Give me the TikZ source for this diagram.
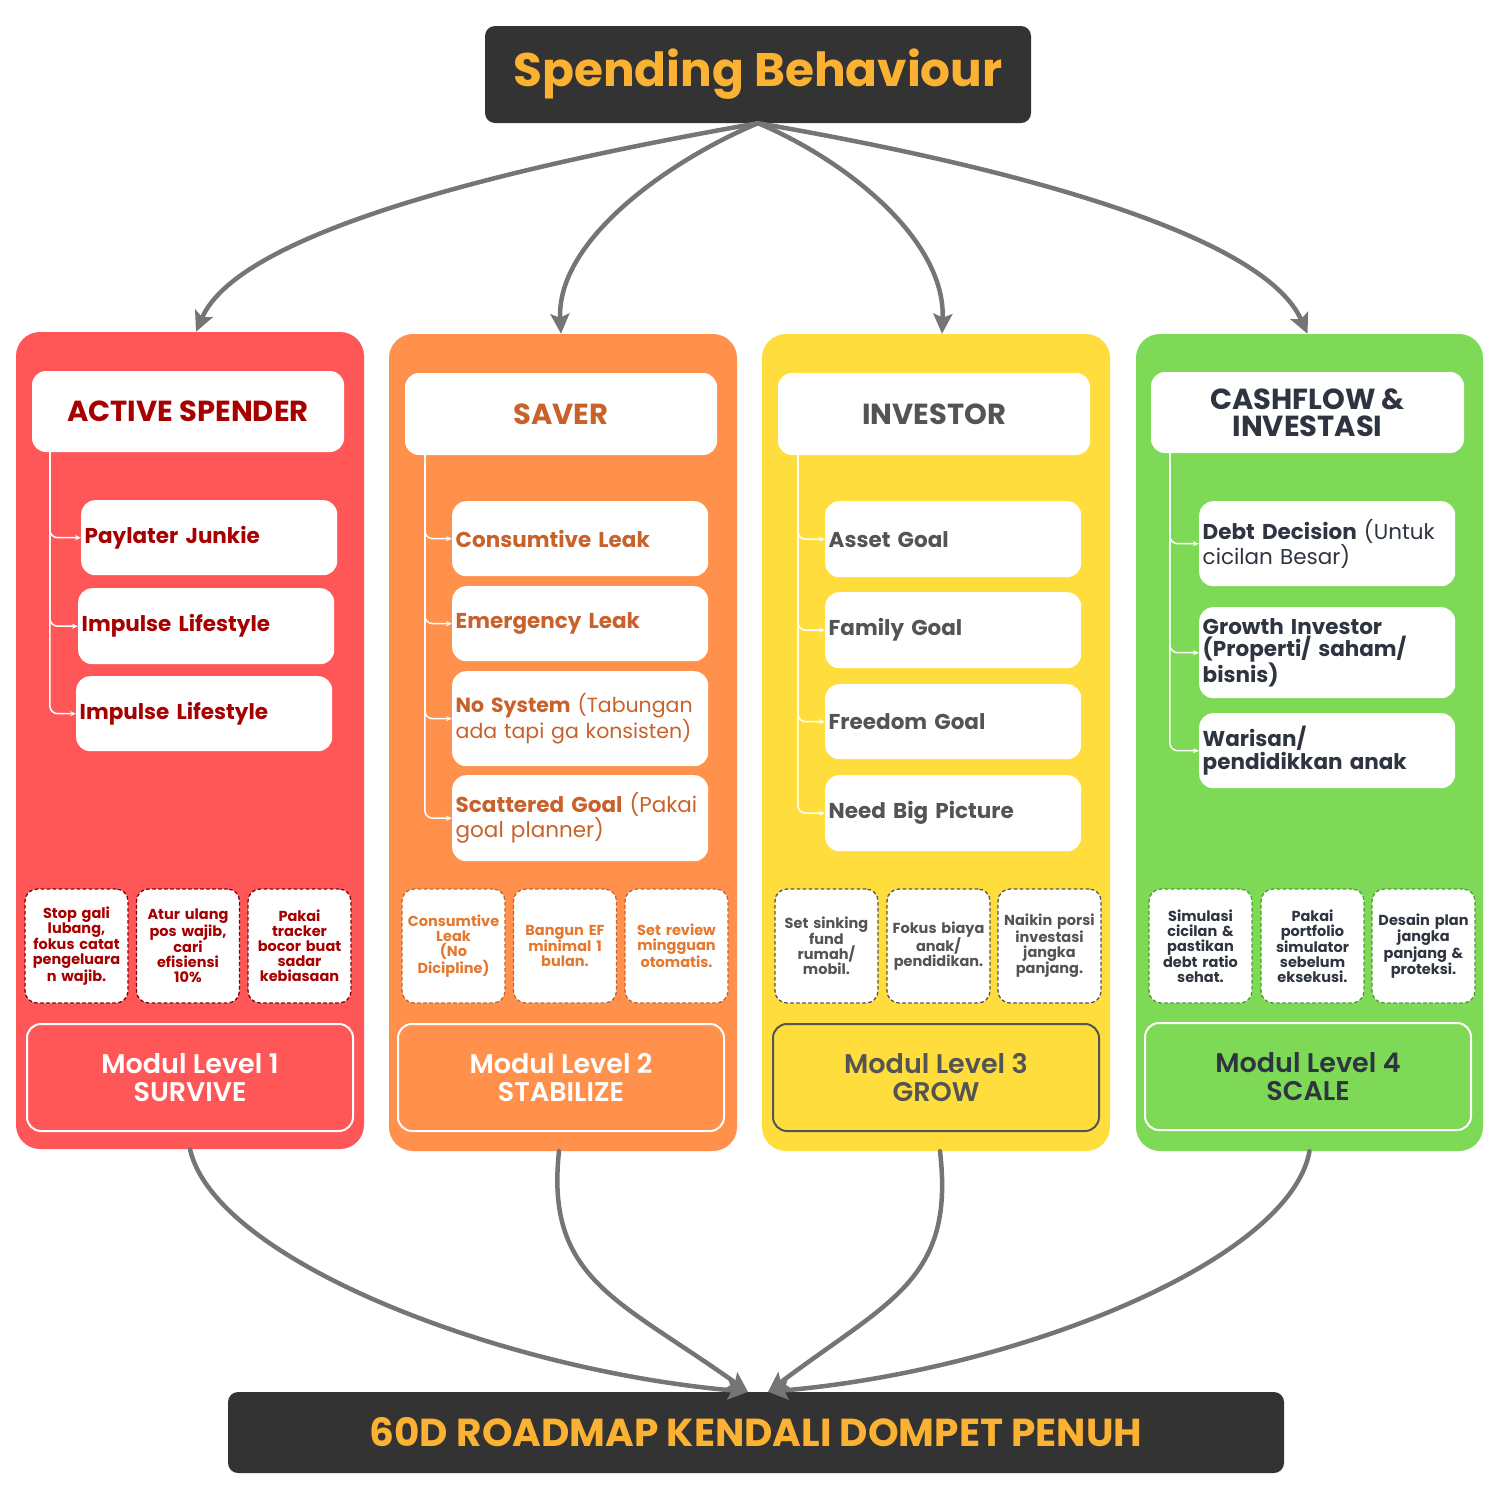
\documentclass[tikz,border=0pt]{standalone}
\usepackage{fontspec}
\usepackage{graphicx}
\setmainfont{Poppins}
\newfontfamily\medfont{Poppins SemiBold}
\usetikzlibrary{arrows.meta,positioning}
\hyphenpenalty=10000
\definecolor{spendred}{HTML}{FF5757}
\definecolor{saverorange}{HTML}{FF914D}
\definecolor{investyellow}{HTML}{FFDD3C}
\definecolor{cashgreen}{HTML}{7ED957}
\definecolor{boxdark}{HTML}{333333}
\definecolor{titleorange}{HTML}{FBB232}
\definecolor{darkred}{HTML}{A60000}
\definecolor{burnt}{HTML}{C8622A}
\definecolor{tiporange}{HTML}{E4782F}
\definecolor{slate}{HTML}{545454}
\definecolor{navy}{HTML}{2E3440}
\definecolor{leafgreen}{HTML}{4E9B2E}
\definecolor{flowgray}{HTML}{757575}
\begin{document}
\begin{tikzpicture}[x=1pt,y=1pt,>=stealth,line join=round,line cap=round]
\tikzset{col/.style={rounded corners=24pt,minimum width=348pt,minimum height=817pt,inner sep=0pt},
head/.style={fill=white,rounded corners=14pt,minimum width=312pt,minimum height=81pt,align=center,font=\bfseries\fontsize{29}{27}\selectfont},
item/.style={fill=white,rounded corners=14pt,anchor=north west,minimum width=256pt,text width=249pt,inner xsep=3.5pt,align=left,font=\fontsize{21.5}{24}\selectfont},
tipbox/.style={fill=white,dashed,line width=1.3pt,rounded corners=12pt,minimum width=103pt,minimum height=114pt,text width=100pt,inner xsep=1.5pt,align=center,font=\bfseries\fontsize{14.5}{15}\selectfont},
modul/.style={draw,line width=2pt,rounded corners=14pt,minimum width=326pt,minimum height=107pt,align=center,font=\medfont\fontsize{27}{28}\selectfont},
darkbox/.style={fill=boxdark,rounded corners=10pt,text=titleorange,font=\bfseries},
flow/.style={draw=flowgray,line width=4.5pt,-{Stealth[length=20pt,width=19pt,inset=4pt]}},
tree/.style={draw=white,line width=1.5pt,rounded corners=8pt,-{Stealth[length=6pt,width=5pt]}}}
\useasboundingbox (0,0) rectangle (1500,-1500);
% title and goal
\node[darkbox,minimum width=546pt,minimum height=97pt,font=\bfseries\fontsize{47}{50}\selectfont] (title) at (758,-74.5) {\raisebox{-4pt}{Spending Behaviour}};
\node[darkbox,minimum width=1056pt,minimum height=81pt,font=\bfseries\fontsize{39}{44}\selectfont] (road) at (756,-1432.5) {60D ROADMAP KENDALI DOMPET PENUH};
% columns
\node[col,fill=spendred] (c1) at (190,-740.5) {};
\node[col,fill=saverorange] (c2) at (563,-742.5) {};
\node[col,fill=investyellow] (c3) at (936,-742.5) {};
\node[col,fill=cashgreen,minimum width=347pt] (c4) at (1309.5,-742.5) {};
% arrows in
\draw[flow] (title.south) .. controls (520,-165) and (240,-230) .. ([xshift=6pt]c1.north);
\draw[flow] (title.south) .. controls (670,-160) and (556,-240) .. ([xshift=-2pt]c2.north);
\draw[flow] (title.south) .. controls (846,-160) and (946,-240) .. ([xshift=6pt]c3.north);
\draw[flow] (title.south) .. controls (1000,-165) and (1262,-232) .. ([xshift=-2pt]c4.north);
% arrows out
\draw[flow] (c1.south) .. controls (215,-1260) and (500,-1370) .. ([xshift=-8pt]road.north);
\draw[flow] ([xshift=-4pt]c2.south) .. controls (545,-1280) and (620,-1300) .. ([xshift=-8pt]road.north);
\draw[flow] ([xshift=4pt]c3.south) .. controls (955,-1280) and (890,-1300) .. ([xshift=12pt]road.north);
\draw[flow] (c4.south) .. controls (1290,-1260) and (1020,-1370) .. ([xshift=12pt]road.north);
% headers
\node[head,text=darkred] (h1) at (188,-411.5) {ACTIVE SPENDER};
\node[head,text=burnt,minimum height=82pt] (h2) at (561,-414) {SAVER};
\node[head,text=slate,minimum height=82pt] (h3) at (934,-414) {INVESTOR};
\node[head,text=navy,minimum width=313pt] (h4) at (1307.5,-412.5) {CASHFLOW \&\\INVESTASI};
% level 1
\node[item,text=darkred,minimum height=75pt] (a1) at (81,-500) {\bfseries Paylater Junkie};
\node[item,text=darkred,minimum height=76pt] (a2) at (78,-588) {\bfseries Impulse Lifestyle};
\node[item,text=darkred,minimum height=75pt] (a3) at (76,-676) {\bfseries Impulse Lifestyle};
\draw[tree] ([xshift=18pt]h1.south west) |- (a1.west);
\draw[tree] ([xshift=18pt]h1.south west) |- (a2.west);
\draw[tree] ([xshift=18pt]h1.south west) |- (a3.west);
% level 2
\node[item,text=burnt,minimum height=75pt] (b1) at (452,-501) {\bfseries Consumtive Leak};
\node[item,text=burnt,minimum height=75pt] (b2) at (452,-586) {\bfseries Emergency Leak};
\node[item,text=burnt,minimum height=95pt,font=\fontsize{20.5}{24}\selectfont] (b3) at (452,-671) {\textbf{No System} (Tabungan\\ada tapi ga konsisten)};
\node[item,text=burnt,minimum height=86pt] (b4) at (452,-775) {\textbf{Scattered Goal} (Pakai\\goal planner)};
\draw[tree] ([xshift=20pt]h2.south west) |- (b1.west);
\draw[tree] ([xshift=20pt]h2.south west) |- (b2.west);
\draw[tree] ([xshift=20pt]h2.south west) |- (b3.west);
\draw[tree] ([xshift=20pt]h2.south west) |- (b4.west);
% level 3
\node[item,text=slate,minimum height=76pt] (g1) at (825,-501) {\bfseries Asset Goal};
\node[item,text=slate,minimum height=76pt] (g2) at (825,-592) {\bfseries Family Goal};
\node[item,text=slate,minimum height=75pt] (g3) at (825,-684) {\bfseries Freedom Goal};
\node[item,text=slate,minimum height=76pt] (g4) at (825,-775) {\bfseries Need Big Picture};
\draw[tree] ([xshift=20pt]h3.south west) |- (g1.west);
\draw[tree] ([xshift=20pt]h3.south west) |- (g2.west);
\draw[tree] ([xshift=20pt]h3.south west) |- (g3.west);
\draw[tree] ([xshift=20pt]h3.south west) |- (g4.west);
% level 4
\node[item,text=navy,minimum height=85pt,font=\fontsize{21.5}{22}\selectfont] (d1) at (1199,-501) {\textbf{Debt Decision} (Untuk\\cicilan Besar)};
\node[item,text=navy,minimum height=91pt,font=\fontsize{21.5}{22}\selectfont] (d2) at (1199,-607) {\bfseries Growth Investor\\(Properti/ saham/\\bisnis)};
\node[item,text=navy,minimum height=75pt,font=\fontsize{21.5}{23}\selectfont] (d3) at (1199,-713) {\bfseries Warisan/\\pendidikkan anak};
\draw[tree] ([xshift=19pt]h4.south west) |- (d1.west);
\draw[tree] ([xshift=19pt]h4.south west) |- (d2.west);
\draw[tree] ([xshift=19pt]h4.south west) |- (d3.west);
% tips
\node[tipbox,draw=darkred!80!black,text=darkred] (t11) at (76.5,-946) {Stop gali\\lubang,\\fokus catat\\pengeluara\\n wajib.};
\node[tipbox,draw=darkred!80!black,text=darkred] (t12) at (188,-946) {Atur ulang\\pos wajib,\\cari\\efisiensi\\10\%};
\node[tipbox,draw=darkred!80!black,text=darkred] (t13) at (299.5,-946) {Pakai\\tracker\\bocor buat\\sadar\\kebiasaan};
\node[tipbox,draw=burnt,text=tiporange] (t21) at (453.5,-946) {Consumtive\\Leak\\(No\\Dicipline)\\[6pt]};
\node[tipbox,draw=burnt,text=tiporange] (t22) at (565,-946) {Bangun EF\\minimal 1\\bulan.};
\node[tipbox,draw=burnt,text=tiporange] (t23) at (676.5,-946) {Set review\\mingguan\\otomatis.};
\node[tipbox,draw=slate,text=slate] (t31) at (826.5,-946) {Set sinking\\fund\\rumah/\\mobil.};
\node[tipbox,draw=slate,text=slate] (t32) at (938.5,-946) {Fokus biaya\\anak/\\pendidikan.};
\node[tipbox,draw=slate,text=slate] (t33) at (1049.5,-946) {Naikin porsi\\investasi\\jangka\\panjang.};
\node[tipbox,draw=leafgreen,text=navy] (t41) at (1200.5,-946) {Simulasi\\cicilan \&\\pastikan\\debt ratio\\sehat.};
\node[tipbox,draw=leafgreen,text=navy] (t42) at (1312.5,-946) {Pakai\\portfolio\\simulator\\sebelum\\eksekusi.};
\node[tipbox,draw=leafgreen,text=navy] (t43) at (1423.5,-946) {Desain plan\\jangka\\panjang \&\\proteksi.};
% modules
\node[modul,draw=white,text=white] (m1) at (190,-1077.5) {Modul Level 1\\SURVIVE};
\node[modul,draw=white,text=white] (m2) at (561,-1077.5) {Modul Level 2\\STABILIZE};
\node[modul,draw=slate,text=slate] (m3) at (936,-1077.5) {Modul Level 3\\GROW};
\node[modul,draw=white,text=navy] (m4) at (1308,-1076.5) {Modul Level 4\\SCALE};
\end{tikzpicture}
\end{document}
